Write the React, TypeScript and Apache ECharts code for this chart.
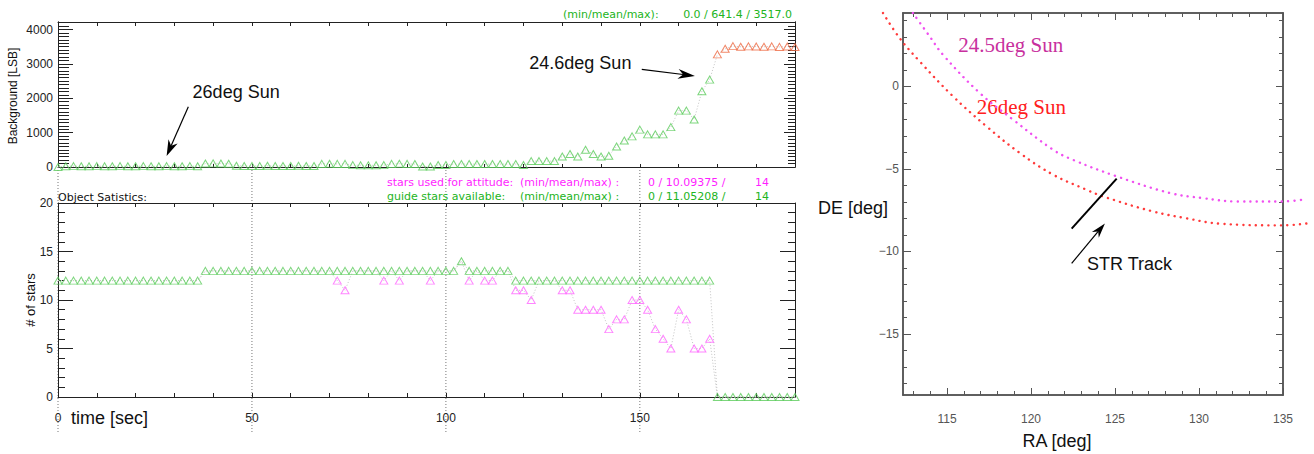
import React, { useEffect, useRef } from 'react';
import * as echarts from 'echarts';

// ---------------- data ----------------
const times = [0, 2, 4, 6, 8, 10, 12, 14, 16, 18, 20, 22, 24, 26, 28, 30, 32, 34, 36, 38, 40, 42, 44, 46, 48, 50, 52, 54, 56, 58, 60, 62, 64, 66, 68, 70, 72, 74, 76, 78, 80, 82, 84, 86, 88, 90, 92, 94, 96, 98, 100, 102, 104, 106, 108, 110, 112, 114, 116, 118, 120, 122, 124, 126, 128, 130, 132, 134, 136, 138, 140, 142, 144, 146, 148, 150, 152, 154, 156, 158, 160, 162, 164, 166, 168, 170, 172, 174, 176, 178, 180, 182, 184, 186, 188, 190];

const backgroundLSB = [
  0, 20, 25, 20, 20, 25, 20, 20, 25, 20, 20, 25, 20, 20, 25, 20, 20, 25, 20,
  100, 105, 100, 95,
  35, 30, 30, 30, 35, 30, 30, 30, 35, 30, 30,
  90, 95, 90, 90,
  55, 50, 50, 50, 55,
  90, 95, 90, 85,
  15, 15,
  60, 60,
  85, 85, 85, 85, 85, 85, 85, 85, 85,
  60,
  172, 172, 172, 172,
  304, 377, 304, 500, 377, 304, 328,
  598, 769, 892, 1088, 950, 950, 950, 1161, 1641, 1641, 1382, 2205, 2543,
  3278, 3440, 3517, 3500, 3510, 3505, 3500, 3510, 3495, 3505, 3490,
];
const saturatedFrom = 170; // background drawn in orange from this time on

const guideStars = [
  12, 12, 12, 12, 12, 12, 12, 12, 12, 12, 12, 12, 12, 12, 12, 12, 12, 12, 12,
  13, 13, 13, 13, 13, 13, 13, 13, 13, 13, 13, 13, 13, 13, 13, 13, 13,
  13, 13, 13, 13, 13, 13, 13, 13, 13, 13, 13, 13, 13, 13, 13, 13,
  14,
  13, 13, 13, 13, 13, 13,
  12, 12, 12, 12, 12, 12, 12, 12, 12, 12, 12, 12, 12, 12, 12, 12, 12, 12, 12, 12, 12, 12, 12, 12, 12, 12,
  0, 0, 0, 0, 0, 0, 0, 0, 0, 0, 0,
];

const usedStars = [
  12, 12, 12, 12, 12, 12, 12, 12, 12, 12, 12, 12, 12, 12, 12, 12, 12, 12, 12,
  13, 13, 13, 13, 13, 13, 13, 13, 13, 13, 13, 13, 13, 13, 13, 13, 13,
  12, 11, 13, 13, 13, 13, 12, 13, 12, 13, 13, 13, 12, 13, 13, 13,
  14,
  12, 13, 12, 12, 13, 13,
  11, 11, 10, 12, 12, 12, 11, 11, 9, 9, 9, 9, 7, 8, 8, 10, 10, 9, 7, 6, 5, 9, 8, 5, 5, 6,
  0, 0, 0, 0, 0, 0, 0, 0, 0, 0, 0,
];

const sun245RA = [112.97, 113.97, 114.76, 116.95, 118.94, 121.32, 122.5, 125.1, 128.28, 130.24, 132.26, 135.0, 136.4];
const sun245DE = [4.45, 3.03, 1.92, -0.4, -2.02, -3.84, -4.45, -5.45, -6.46, -6.77, -6.97, -6.97, -6.83];
const sun26RA = [111.19, 112.18, 113.37, 115.36, 117.35, 119.34, 121.32, 123.3, 124.3, 127.28, 129.25, 131.26, 135.0, 136.6];
const sun26DE = [4.45, 2.93, 1.52, -0.6, -2.42, -4.04, -5.35, -6.26, -6.67, -7.58, -7.99, -8.32, -8.42, -8.28];
const strTrackRA = [122.42, 125.1];
const strTrackDE = [-8.62, -5.59];

const timeLabelValues = [0, 50, 100, 150];
const raMajor = [115, 120, 125, 130, 135];
const raMinor = [113, 114, 115, 116, 117, 118, 119, 120, 121, 122, 123, 124, 125, 126, 127, 128, 129, 130, 131, 132, 133, 134, 135];
const deMajor = [-15, -10, -5, 0];
const deMinor = [-18, -17, -16, -15, -14, -13, -12, -11, -10, -9, -8, -7, -6, -5, -4, -3, -2, -1, 0, 1, 2, 3, 4];

// ---------------- styles ----------------
const SANS = '"Liberation Sans", Helvetica, Arial, sans-serif';
const DV = '"DejaVu Sans", sans-serif';
const SERIF = '"Liberation Serif", "Times New Roman", serif';
const DARK = '#222';
const GREY = '#555';
const GREEN_MK = '#5ccc5c';
const ORANGE_MK = '#ee6a44';
const MAGENTA_MK = '#ff66ff';
const TXT_GREEN = '#22b422';
const TXT_MAGENTA = '#ff1eff';

// sky panel: box spans RA 112.38..135 over 380 px; an invisible wider frame with the same scale lets curves run past the box
const RA_MIN = 112.38, RA_MAX = 135, DE_MIN = -18.7, DE_MAX = 4.45;
const SKY_LEFT = 903, SKY_W = 380, SKY_TOP = 13, SKY_H = 382, SKY_PAD = 30;
const RA_PER_PX = (RA_MAX - RA_MIN) / SKY_W;

function axis(o: any) {
  const color = o.color || DARK;
  const a: any = {
    gridIndex: o.grid,
    type: 'value',
    position: o.position,
    min: o.min,
    max: o.max,
    axisLine: { show: true, onZero: false, lineStyle: { color, width: o.lineWidth || 1 } },
    axisTick: { show: true, inside: true, length: o.tick, lineStyle: { color, width: 1 } },
    minorTick: { show: false },
    axisLabel: { show: false },
    splitLine: { show: false },
  };
  if (o.interval) a.interval = o.interval;
  if (o.tickValues) a.axisTick.customValues = o.tickValues;
  if (o.minor) a.minorTick = { show: true, splitNumber: o.minor[0], length: o.minor[1], lineStyle: { color, width: 1 } };
  if (o.label) a.axisLabel = { show: true, fontFamily: SANS, ...o.label };
  return a;
}

export default function App() {
  const ref = useRef<HTMLDivElement>(null);

  useEffect(() => {
    const chart = echarts.init(ref.current!, null, { renderer: 'svg' });

    const bgPairs = times.map((t, i) => [t, backgroundLSB[i]]);
    const usedPairs = times.map((t, i) => [t, usedStars[i]]);
    const guidePairs = times.map((t, i) => [t, guideStars[i]]);

    const tri = (color: string) => ({
      type: 'scatter',
      symbol: 'triangle',
      symbolSize: [8, 7],
      clip: false,
      itemStyle: { color: 'rgba(0,0,0,0)', borderColor: color, borderWidth: 1 },
      silent: true,
    });
    const conn = {
      type: 'line',
      symbol: 'none',
      clip: false,
      lineStyle: { color: '#c4c4c4', width: 1, type: [1, 2] },
      silent: true,
      z: 1,
    };
    const dotted = (color: string) => ({
      type: 'line', xAxisIndex: 8, yAxisIndex: 10, symbol: 'none', smooth: 0.4, clip: false, silent: true,
      lineStyle: { color, width: 2.4, type: [0.1, 6.2], cap: 'round' },
    });

    const padRA = SKY_PAD * RA_PER_PX;

    const option: any = {
      animation: false,
      backgroundColor: '#fff',
      grid: [
        { left: 58, top: 22, width: 737, height: 145, outerBoundsMode: 'none' },
        { left: 58, top: 203, width: 737, height: 194, outerBoundsMode: 'none' },
        { left: SKY_LEFT, top: SKY_TOP, width: SKY_W, height: SKY_H, outerBoundsMode: 'none' },
        { left: SKY_LEFT - SKY_PAD, top: SKY_TOP, width: SKY_W + 2 * SKY_PAD, height: SKY_H, outerBoundsMode: 'none' },
      ],
      xAxis: [
        axis({ grid: 0, position: 'bottom', min: 0, max: 190, interval: 10, tick: 3 }),
        axis({ grid: 0, position: 'top', min: 0, max: 190, interval: 10, tick: 4 }),
        axis({
          grid: 1, position: 'bottom', min: 0, max: 190, interval: 10, tick: 4,
          label: {
            margin: 15, fontSize: 12, color: DARK,
            formatter: (v: number) => (timeLabelValues.indexOf(v) >= 0 ? String(v) : ''),
          },
        }),
        axis({ grid: 1, position: 'top', min: 0, max: 190, interval: 10, tick: 4 }),
        axis({
          grid: 2, position: 'bottom', min: RA_MIN, max: RA_MAX, tick: 7, tickValues: raMajor, color: GREY, lineWidth: 1.5,
          label: { customValues: raMajor, margin: 18, fontSize: 12, color: GREY },
        }),
        axis({ grid: 2, position: 'bottom', min: RA_MIN, max: RA_MAX, tick: 4, tickValues: raMinor, color: GREY, lineWidth: 1.5 }),
        axis({ grid: 2, position: 'top', min: RA_MIN, max: RA_MAX, tick: 7, tickValues: raMajor, color: GREY, lineWidth: 1.5 }),
        axis({ grid: 2, position: 'top', min: RA_MIN, max: RA_MAX, tick: 4, tickValues: raMinor, color: GREY, lineWidth: 1.5 }),
        { gridIndex: 3, type: 'value', show: false, min: RA_MIN - padRA, max: RA_MAX + padRA },
      ],
      yAxis: [
        axis({ grid: 0, position: 'left', min: 0, max: 4220, interval: 100, tick: 11 }),
        axis({
          grid: 0, position: 'left', min: 0, max: 4220, interval: 1000, tick: 15,
          label: { margin: 5, fontSize: 12, color: DARK, formatter: (v: number) => (v % 1000 === 0 ? String(v) : '') },
        }),
        axis({ grid: 0, position: 'right', min: 0, max: 4220, interval: 100, tick: 7 }),
        axis({ grid: 0, position: 'right', min: 0, max: 4220, interval: 1000, tick: 11 }),
        axis({
          grid: 1, position: 'left', min: 0, max: 20, interval: 5, tick: 15, minor: [5, 7],
          label: { margin: 5, fontSize: 12, color: DARK },
        }),
        axis({ grid: 1, position: 'right', min: 0, max: 20, interval: 5, tick: 15, minor: [5, 7] }),
        axis({
          grid: 2, position: 'left', min: DE_MIN, max: DE_MAX, tick: 8, tickValues: deMajor, color: GREY, lineWidth: 1.5,
          label: {
            customValues: deMajor, margin: 4, fontSize: 12, color: GREY,
            formatter: (v: number) => (v < 0 ? '\u2212' + Math.abs(v) : String(v)),
          },
        }),
        axis({ grid: 2, position: 'left', min: DE_MIN, max: DE_MAX, tick: 4, tickValues: deMinor, color: GREY, lineWidth: 1.5 }),
        axis({ grid: 2, position: 'right', min: DE_MIN, max: DE_MAX, tick: 7, tickValues: deMajor, color: GREY, lineWidth: 1.5 }),
        axis({ grid: 2, position: 'right', min: DE_MIN, max: DE_MAX, tick: 4, tickValues: deMinor, color: GREY, lineWidth: 1.5 }),
        { gridIndex: 3, type: 'value', show: false, min: DE_MIN, max: DE_MAX },
      ],
      series: [
        { ...conn, xAxisIndex: 0, yAxisIndex: 1, data: bgPairs },
        { ...tri(GREEN_MK), xAxisIndex: 0, yAxisIndex: 1, z: 3, data: bgPairs.filter((p) => p[0] < saturatedFrom) },
        { ...tri(ORANGE_MK), xAxisIndex: 0, yAxisIndex: 1, z: 3, data: bgPairs.filter((p) => p[0] >= saturatedFrom) },
        { ...conn, xAxisIndex: 2, yAxisIndex: 4, data: usedPairs },
        { ...conn, xAxisIndex: 2, yAxisIndex: 4, data: guidePairs },
        // magenta markers are hidden underneath identical green ones; draw only where they differ
        { ...tri(MAGENTA_MK), xAxisIndex: 2, yAxisIndex: 4, z: 3, data: usedPairs.filter((p, i) => p[1] !== guideStars[i]) },
        { ...tri(GREEN_MK), xAxisIndex: 2, yAxisIndex: 4, z: 4, data: guidePairs },
        { ...dotted('#f050f0'), data: sun245RA.map((r, i) => [r, sun245DE[i]]) },
        { ...dotted('#ff3a3a'), data: sun26RA.map((r, i) => [r, sun26DE[i]]) },
        {
          type: 'line', xAxisIndex: 8, yAxisIndex: 10, symbol: 'none', clip: false, silent: true,
          lineStyle: { color: '#000', width: 2 },
          data: strTrackRA.map((r, i) => [r, strTrackDE[i]]),
        },
      ],
    };
    chart.setOption(option);

    const P = (si: number, x: number, y: number) => chart.convertToPixel({ seriesIndex: si }, [x, y]) as number[];

    const txt = (x: number, y: number, text: string, font: string, fill: string, align = 'left', rotation = 0) => ({
      type: 'text', x, y, rotation, silent: true,
      style: { text, font, fill, align, verticalAlign: 'middle', textAlign: align, textVerticalAlign: 'middle' },
    });
    const arrow = (x1: number, y1: number, x2: number, y2: number, len: number, w: number) => {
      const a = Math.atan2(y2 - y1, x2 - x1);
      const c = Math.cos(a), s = Math.sin(a);
      const bx = x2 - len * c, by = y2 - len * s;
      const nx = x2 - len * 0.7 * c, ny = y2 - len * 0.7 * s;
      const px = -s * w / 2, py = c * w / 2;
      return [
        { type: 'line', silent: true, shape: { x1, y1, x2: nx, y2: ny }, style: { stroke: '#000', lineWidth: 1.2 } },
        { type: 'polygon', silent: true, shape: { points: [[x2, y2], [bx + px, by + py], [nx, ny], [bx - px, by - py]] }, style: { fill: '#000' } },
      ];
    };

    const g: any[] = [];
    // dotted vertical time markers
    timeLabelValues.forEach((t) => {
      const [x, yb] = P(4, t, 0);
      const yt = P(0, t, 0)[1];
      g.push({ type: 'line', silent: true, z: 0, shape: { x1: x, y1: yt + 3, x2: x, y2: yb + 36 }, style: { stroke: '#777', lineWidth: 1, lineDash: [1, 2] } });
    });

    // upper panel annotations
    const a26t = P(0, 33.6, 1755), a26h = P(0, 28.0, 320);
    g.push(...arrow(a26t[0], a26t[1], a26h[0], a26h[1], 16, 10));
    const l26 = P(0, 34.7, 2174);
    g.push(txt(l26[0], l26[1], '26deg Sun', `18px ${SANS}`, '#111'));
    const a24t = P(0, 150.5, 2843), a24h = P(0, 164.2, 2648);
    g.push(...arrow(a24t[0], a24t[1], a24h[0], a24h[1], 17, 10));
    const l24 = P(0, 121.5, 3018);
    g.push(txt(l24[0], l24[1], '24.6deg Sun', `18px ${SANS}`, '#111'));

    g.push(txt(563, 14, '(min/mean/max):', `11px ${DV}`, TXT_GREEN));
    g.push(txt(792, 14, '0.0 / 641.4 / 3517.0', `11px ${DV}`, TXT_GREEN, 'right'));

    g.push(txt(13, 96, 'Background [LSB]', `12px ${SANS}`, '#111', 'center', Math.PI / 2));
    g.push(txt(30, 300, '# of stars', `13px ${SANS}`, '#111', 'center', Math.PI / 2));

    g.push(txt(58, 197, 'Object Satistics:', `11px ${DV}`, '#111'));
    g.push(txt(387, 182, 'stars used for attitude:', `11px ${DV}`, TXT_MAGENTA));
    g.push(txt(520, 182, '(min/mean/max) :', `11px ${DV}`, TXT_MAGENTA));
    g.push(txt(648, 182, '0 / 10.09375 /', `11px ${DV}`, TXT_MAGENTA));
    g.push(txt(769, 182, '14', `11px ${DV}`, TXT_MAGENTA, 'right'));
    g.push(txt(387, 196, 'guide stars available:', `11px ${DV}`, TXT_GREEN));
    g.push(txt(520, 196, '(min/mean/max) :', `11px ${DV}`, TXT_GREEN));
    g.push(txt(648, 196, '0 / 11.05208 /', `11px ${DV}`, TXT_GREEN));
    g.push(txt(769, 196, '14', `11px ${DV}`, TXT_GREEN, 'right'));

    g.push(txt(71, 418, 'time [sec]', `18px ${SANS}`, '#111'));

    // right panel annotations
    const s245 = P(7, 115.67, 2.51);
    g.push(txt(s245[0], s245[1], '24.5deg Sun', `21px ${SERIF}`, '#c8309e'));
    const s26 = P(7, 116.77, -1.23);
    g.push(txt(s26[0], s26[1], '26deg Sun', `21px ${SERIF}`, '#ff2020'));
    const st = P(7, 122.42, -10.72), sh = P(7, 124.4, -8.3);
    g.push(...arrow(st[0], st[1], sh[0], sh[1], 15, 9));
    const sl = P(7, 123.33, -10.76);
    g.push(txt(sl[0], sl[1], 'STR Track', `18px ${SANS}`, '#111'));
    g.push(txt(818, 208, 'DE [deg]', `18px ${SANS}`, '#111'));
    g.push(txt(1057, 441, 'RA [deg]', `18px ${SANS}`, '#111', 'center'));

    chart.setOption({ graphic: g });

    return () => chart.dispose();
  }, []);

  return <div ref={ref} style={{ position: 'fixed', left: 0, top: 0, width: 1314, height: 454 }} />;
}
